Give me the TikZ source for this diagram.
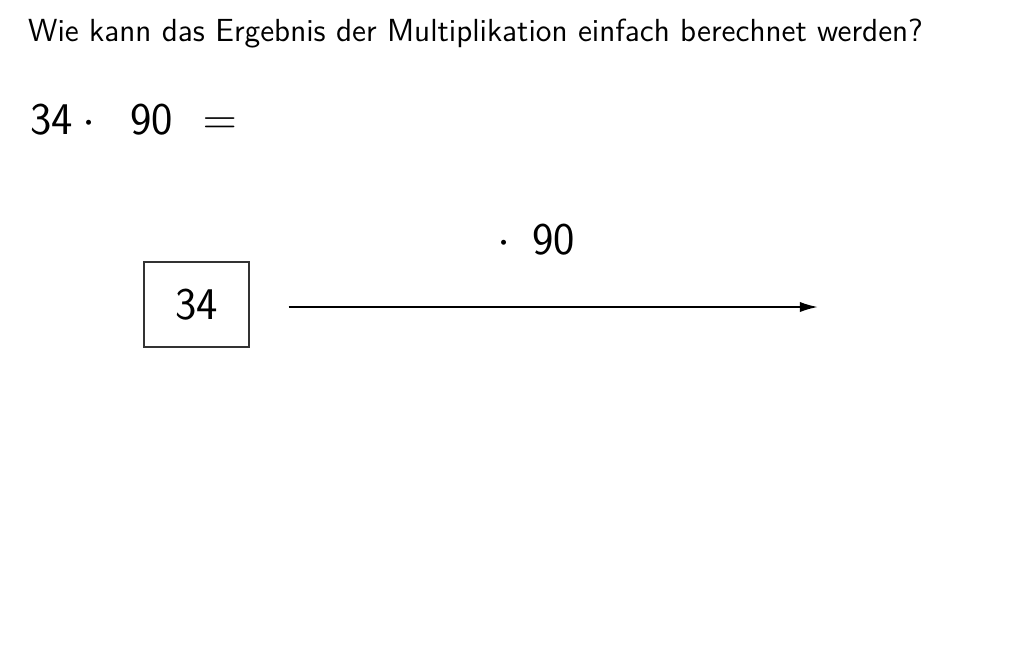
\documentclass[tikz,border=0pt]{standalone}
\usetikzlibrary{arrows.meta}
\usepackage{amsmath,amssymb}

\begin{document}
\begin{tikzpicture}[every node/.style = {font=\sffamily, inner sep=0pt},
    gross/.style = {font=\sffamily\fontsize{20}{24}\selectfont},
    kasten/.style = {draw=black!80, line width=0.8pt, minimum width=1.63cm, minimum height=1.32cm}]
\useasboundingbox (0,0) rectangle (16,10);
\node[anchor=base west, font=\sffamily\fontsize{14.1}{17}\selectfont] (frage) at (0.43,9.36)
    {Wie kann das Ergebnis der Multiplikation einfach berechnet werden?};
% Aufgabe
\node[gross, anchor=base west] (a) at (0.465,7.907) {34};
\node[gross, anchor=base] (mal) at (1.38,7.907) {$\cdot$};
\node[gross, anchor=base west] (b) at (2.016,7.907) {90};
\node[gross, anchor=base west] (gleich) at (3.14,7.907) {$=$};
% Rechenpfeil
\node[gross, kasten] (start) at (3.047,5.279) {34};
\coordinate (ende) at (12.68,5.24);
\draw[line width=0.8pt, -{Latex[length=2.8mm,width=1.6mm]}] ([xshift=0.6cm]start.east |- ende) -- (ende);
\node[gross, anchor=base] (op) at (8.31,6.047) {$\cdot$\, 90};
\end{tikzpicture}
\end{document}
